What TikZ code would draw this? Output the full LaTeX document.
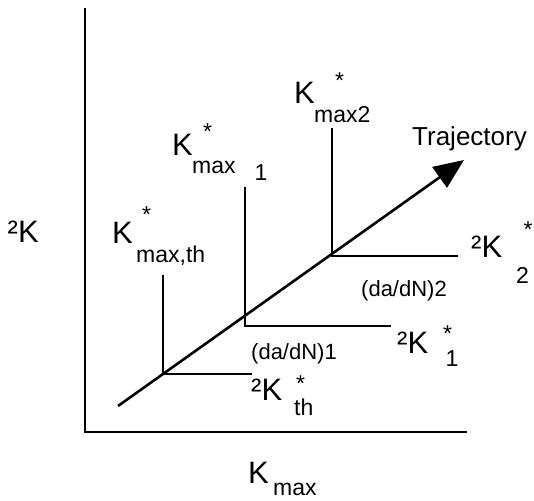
\documentclass[tikz,border=0pt]{standalone}
\usepackage{fontspec}
\setmainfont{Liberation Sans}
\usetikzlibrary{arrows.meta}
\tikzset{
  big/.style={font=\fontsize{31}{36}\selectfont, inner sep=0pt, anchor=base west},
  subtxt/.style={font=\fontsize{23}{28}\selectfont, inner sep=0pt, anchor=base west},
  midtxt/.style={font=\fontsize{22}{26}\selectfont, inner sep=0pt, anchor=base west},
  trajtxt/.style={font=\fontsize{26}{30}\selectfont, inner sep=0pt, anchor=base west},
  ln/.style={line width=2.8pt, line cap=butt},
}
\begin{document}
\begin{tikzpicture}[x=1pt,y=-1pt]
\useasboundingbox (0,0) rectangle (534,500);
% axes
\coordinate (ytop) at (85,8);
\coordinate (orig) at (85,432);
\coordinate (xend) at (467,432);
\draw[ln, line join=miter] (ytop) -- (orig) -- (xend);
% threshold
\coordinate (tht) at (163,275);
\coordinate (thc) at (163,374);
\coordinate (the) at (252,374);
\draw[ln, line join=miter] (tht) -- (thc) -- (the);
% level 1
\coordinate (at) at (245,187);
\coordinate (ac) at (245,326);
\coordinate (ae) at (391,326);
\draw[ln, line join=miter] (at) -- (ac) -- (ae);
% level 2
\coordinate (bt) at (332,128);
\coordinate (bc) at (332,256);
\coordinate (be) at (458,256);
\draw[ln, line join=miter] (bt) -- (bc) -- (be);
% trajectory
\coordinate (trs) at (118,406);
\coordinate (tre) at (464,160);
\draw[line width=2.6pt, -{Triangle[length=30pt,width=25pt]}] (trs) -- (tre);
% labels
\node[big] (dk) at (7.5,242) {²K};
\node[big] (kx) at (248,483) {K};
\node[subtxt] (kxs) at (273,495) {max};
\node[trajtxt] (traj) at (412,145) {Trajectory};
% K*max,th
\node[big] (kth) at (112,243) {K};
\node[subtxt] (kths) at (142,222.5) {*};
\node[subtxt] (kthb) at (136,262) {max,th};
% K*max 1
\node[big] (k1) at (172,155) {K};
\node[subtxt] (k1s) at (203,139.5) {*};
\node[subtxt] (k1b) at (192,173) {max};
\node[subtxt] (k1n) at (254.5,180) {1};
% K*max2
\node[big] (k2) at (294,103) {K};
\node[subtxt] (k2s) at (335,88.5) {*};
\node[subtxt] (k2b) at (314,122) {max2};
% dK*2
\node[big] (d2) at (471,257) {²K};
\node[subtxt] (d2s) at (523.5,237) {*};
\node[subtxt] (d2n) at (516,283) {2};
% dK*1
\node[big] (d1) at (397,353) {²K};
\node[subtxt] (d1s) at (443,341.5) {*};
\node[subtxt] (d1n) at (445.5,366) {1};
% dK*th
\node[big] (dth) at (251,400) {²K};
\node[subtxt] (dths) at (296,391.5) {*};
\node[subtxt] (dthn) at (294,415) {th};
% da/dN
\node[midtxt] (r2) at (361,296) {(da/dN)2};
\node[midtxt] (r1) at (251,359) {(da/dN)1};
\end{tikzpicture}
\end{document}
